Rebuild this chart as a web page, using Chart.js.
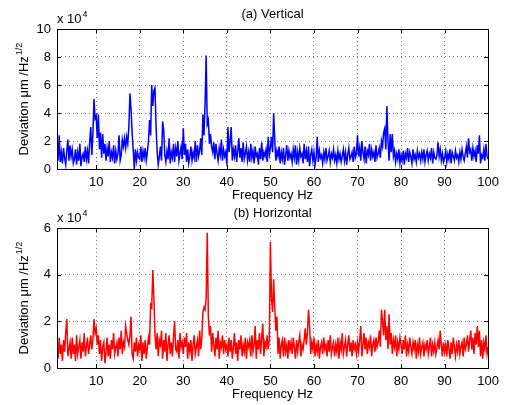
<!DOCTYPE html>
<html>
<head>
<meta charset="utf-8">
<title>Deviation spectra</title>
<script src="https://cdn.jsdelivr.net/npm/chart.js@4.4.0/dist/chart.umd.min.js"></script>
<style>
    html, body { margin: 0; padding: 0; background: #fff; }
    #wrap { position: relative; width: 505px; height: 405px; }
    #wrap canvas { position: absolute; left: 0; top: 0; }
</style>
</head>
<body>
<div id="wrap">
    <canvas id="vertChart" width="505" height="405"></canvas>
    <canvas id="horzChart" width="505" height="405"></canvas>
</div>
<script>
// Frequency grid (Hz): 1 to 100 in 0.25 Hz steps
const freqStart = 1;
const freqStep = 0.25;

// Tick labels
const xTicks = [10, 20, 30, 40, 50, 60, 70, 80, 90, 100];
const yTicksVert = [0, 2, 4, 6, 8, 10];
const yTicksHorz = [0, 2, 4, 6];

// (a) Vertical deviation, in units of 1e4 um/Hz^1/2 (one row per 5 Hz)
const verticalDev = [
    1.8, 0.6, 2.4, 0.5, 1.2, 0.4, 1.5, 0.8, 0.3, 1.3, 2.1, 0.6, 1.7, 0.9, 1.4, 0.4,
    0.7, 1.4, 0.3, 1.2, 0.6, 1.8, 0.2, 0.9, 1.1, 0.5, 1.6, 0.7, 1.3, 0.4, 1.9, 3.0, 1.0, 2.6, 5.0, 3.6,
    3.8, 2.2, 3.9, 1.4, 2.6, 0.8, 2.5, 1.1, 1.8, 0.6, 1.5, 0.9, 2.0, 0.5, 1.2, 0.8, 1.7, 0.4, 1.3, 0.7,
    1.1, 2.4, 0.6, 1.0, 2.1, 1.6, 2.2, 1.5, 2.3, 1.8, 3.0, 5.4, 4.3, 2.6, 1.4, 0.0, 1.4, 0.6, 1.2, 0.8,
    0.7, 1.6, 0.5, 1.3, 0.8, 1.5, 0.6, 1.2, 2.0, 3.5, 2.4, 6.0, 4.5, 5.6, 5.8, 3.0, 1.2, 0.3, 0.9, 1.6,
    0.6, 3.4, 2.8, 1.0, 0.5, 1.3, 0.7, 2.2, 0.4, 1.2, 0.8, 1.8, 0.5, 1.5, 0.9, 2.0, 0.6, 1.1, 1.6, 0.7,
    2.9, 1.0, 1.8, 0.5, 1.4, 0.4, 0.9, 1.6, 0.6, 1.2, 0.8, 2.0, 0.5, 1.7, 0.9, 1.3, 2.2, 1.0, 3.9, 2.4,
    4.6, 8.1, 3.2, 3.5, 1.8, 2.5, 1.6, 1.2, 1.9, 0.7, 1.8, 1.1, 0.6, 1.5, 1.0, 2.1, 0.6, 1.4, 0.9, 1.2,
    0.3, 3.0, 1.2, 2.0, 3.0, 0.6, 1.4, 0.9, 1.7, 0.5, 1.3, 2.2, 0.8, 1.5, 0.5, 1.9, 0.7, 1.1, 1.6, 0.6,
    1.2, 0.5, 1.8, 0.8, 1.3, 0.4, 1.6, 0.9, 1.1, 0.3, 1.5, 0.7, 1.9, 0.6, 1.2, 0.9, 1.4, 0.5, 2.3, 1.0,
    1.5, 2.3, 1.2, 4.0, 2.1, 0.6, 1.3, 0.9, 1.6, 0.4, 1.2, 0.7, 1.5, 0.3, 1.0, 1.7, 0.6, 1.3, 0.8, 1.1,
    0.5, 1.4, 0.8, 1.7, 0.3, 1.2, 0.6, 1.5, 0.9, 1.1, 0.4, 1.8, 0.7, 1.3, 0.5, 1.6, 0.2, 1.0, 1.4, 0.6,
    1.2, 0.3, 0.8, 2.3, 0.5, 1.3, 0.8, 1.0, 0.4, 1.2, 0.7, 1.5, 0.6, 0.9, 1.3, 0.5, 1.1, 0.8, 1.4, 0.6,
    1.0, 0.4, 1.3, 0.7, 1.1, 0.5, 0.9, 1.4, 0.6, 1.2, 0.3, 1.0, 1.5, 0.7, 0.9, 1.2, 0.5, 1.6, 0.8, 1.1,
    2.4, 0.9, 1.5, 0.6, 2.0, 1.2, 0.7, 1.6, 0.4, 1.3, 1.0, 1.8, 0.6, 1.4, 0.9, 1.2, 0.5, 1.7, 0.8, 1.1,
    1.5, 0.8, 2.0, 1.6, 2.6, 2.9, 1.4, 4.5, 2.0, 0.6, 2.5, 1.2, 2.5, 0.9, 1.3, 0.5, 1.1, 0.7, 1.4, 0.4,
    1.0, 0.6, 1.3, 0.3, 1.1, 0.8, 1.5, 0.5, 1.2, 0.9, 0.4, 1.4, 0.7, 1.0, 0.5, 1.3, 0.8, 1.1, 0.6, 1.2,
    0.7, 1.4, 0.5, 1.0, 1.3, 0.6, 1.1, 0.8, 1.5, 0.4, 1.2, 0.8, 0.7, 1.0, 1.9, 0.9, 1.4, 0.6, 1.1, 0.5,
    0.8, 1.3, 0.5, 1.1, 0.7, 1.4, 0.4, 1.2, 0.9, 0.6, 1.3, 0.8, 1.0, 0.5, 1.2, 0.7, 1.4, 0.9, 0.6, 1.1,
    1.6, 0.8, 2.2, 1.2, 1.4, 0.6, 1.5, 0.9, 1.3, 0.5, 1.7, 1.1, 2.4, 0.4, 1.0, 0.8, 1.4, 0.6, 1.8, 0.9,
    0.7
];

// (b) Horizontal deviation, in units of 1e4 um/Hz^1/2 (one row per 5 Hz)
const horizontalDev = [
    0.9, 0.4, 1.3, 0.6, 1.0, 0.3, 1.2, 0.7, 1.5, 2.1, 0.5, 0.8, 1.1, 0.4, 1.3, 0.6,
    1.0, 0.3, 1.4, 0.6, 0.9, 1.2, 0.4, 1.1, 0.7, 1.5, 0.5, 0.9, 1.3, 0.6, 1.0, 1.4, 0.8, 1.2, 2.1, 1.5,
    1.7, 1.0, 1.4, 0.6, 1.2, 0.3, 0.9, 1.1, 0.2, 0.7, 1.3, 0.5, 1.0, 0.4, 1.2, 0.8, 1.5, 0.6, 0.9, 1.1,
    0.5, 1.3, 0.8, 1.6, 0.6, 1.1, 0.9, 1.8, 1.5, 1.2, 1.0, 1.4, 2.2, 0.6, 0.4, 1.1, 0.7, 1.3, 0.5, 1.0,
    0.8, 1.4, 0.3, 1.1, 0.6, 1.2, 0.4, 0.9, 1.3, 1.0, 2.7, 2.6, 4.2, 3.0, 1.4, 0.8, 1.5, 0.5, 1.2, 1.0,
    1.6, 0.4, 1.2, 0.7, 1.5, 0.3, 1.0, 1.4, 0.6, 1.1, 0.5, 1.3, 2.0, 0.8, 0.7, 1.2, 0.4, 1.5, 0.9, 1.1,
    0.6, 1.3, 0.9, 1.5, 0.4, 1.1, 0.7, 1.2, 0.3, 1.0, 1.4, 0.6, 0.9, 1.2, 0.5, 1.6, 0.8, 1.3, 2.4, 2.6,
    2.5, 3.0, 5.8, 2.2, 1.4, 1.8, 0.7, 1.5, 1.0, 0.5, 1.3, 0.8, 1.6, 0.4, 1.1, 0.9, 1.4, 0.6, 1.2, 0.8,
    1.0, 0.5, 1.3, 0.7, 1.2, 0.4, 0.9, 1.5, 0.6, 1.1, 0.3, 1.2, 0.8, 1.4, 0.5, 1.0, 0.7, 1.3, 0.4, 1.1,
    0.9, 1.2, 0.5, 1.4, 0.7, 1.0, 1.8, 0.4, 1.2, 0.8, 1.5, 0.6, 1.3, 1.9, 0.5, 1.1, 0.9, 1.4, 0.8, 1.2,
    5.4, 3.0, 2.4, 3.8, 2.6, 1.6, 2.2, 0.6, 1.3, 0.4, 1.0, 1.2, 0.5, 1.3, 0.7, 1.0, 0.4, 1.2, 0.8, 1.1,
    0.6, 1.3, 0.9, 0.4, 1.2, 0.7, 1.1, 1.4, 0.5, 1.0, 0.8, 1.2, 1.7, 1.0, 1.5, 2.5, 1.8, 0.6, 1.1, 0.8,
    1.3, 0.5, 1.0, 0.7, 1.2, 0.4, 0.9, 1.1, 0.6, 1.3, 0.8, 1.0, 0.5, 1.2, 0.7, 1.4, 0.6, 0.9, 1.1, 0.5,
    1.0, 0.7, 1.3, 0.4, 1.1, 0.8, 1.5, 0.6, 0.9, 1.2, 0.5, 1.0, 1.4, 0.7, 1.1, 0.5, 1.2, 0.8, 1.0, 0.6,
    1.1, 0.7, 1.2, 1.8, 0.5, 1.0, 1.5, 0.8, 1.3, 0.6, 1.1, 0.9, 1.4, 0.5, 1.0, 1.2, 0.7, 1.3, 0.9, 1.1,
    1.6, 0.9, 2.5, 2.0, 1.4, 2.5, 1.2, 1.8, 0.8, 2.3, 1.0, 1.5, 0.6, 1.2, 0.9, 1.4, 0.5, 1.1, 0.8, 1.3,
    1.0, 0.6, 1.2, 0.8, 1.4, 0.5, 1.0, 0.7, 1.3, 0.9, 0.6, 1.1, 0.8, 1.2, 0.4, 1.0, 0.7, 1.3, 0.6, 0.9,
    1.1, 0.5, 1.0, 0.8, 1.2, 0.6, 0.9, 1.3, 0.5, 1.0, 0.7, 1.1, 0.6, 0.9, 1.2, 0.8, 1.6, 1.0, 0.5, 1.1,
    0.7, 1.0, 0.5, 1.2, 0.8, 0.4, 1.1, 0.6, 1.3, 0.9, 0.5, 1.0, 0.7, 1.2, 0.6, 0.9, 1.1, 0.5, 1.3, 0.8,
    1.0, 1.4, 0.7, 1.2, 1.6, 0.8, 1.3, 0.6, 1.5, 1.0, 1.8, 0.9, 1.6, 0.5, 1.2, 0.4, 1.1, 0.8, 1.4, 0.6,
    0.9
];

const FONT = "'Liberation Sans', Arial, Helvetica, sans-serif";

// Draw the MATLAB-style box, inward ticks and the annotation text
const annotate = {
    id: 'annotate',
    afterDraw(chart, args, opts) {
        const { ctx, chartArea: a, scales } = chart;
        ctx.save();

        // box
        ctx.strokeStyle = '#000';
        ctx.lineWidth = 1;
        ctx.strokeRect(Math.round(a.left) + 0.5, Math.round(a.top) + 0.5,
            Math.round(a.width), Math.round(a.height));

        // inward tick marks on all four sides
        ctx.beginPath();
        xTicks.forEach(v => {
            const px = Math.round(scales.x.getPixelForValue(v)) + 0.5;
            ctx.moveTo(px, a.bottom); ctx.lineTo(px, a.bottom - 4);
            ctx.moveTo(px, a.top); ctx.lineTo(px, a.top + 4);
        });
        opts.yTicks.forEach(v => {
            const py = Math.round(scales.y.getPixelForValue(v)) + 0.5;
            ctx.moveTo(a.left, py); ctx.lineTo(a.left + 4, py);
            ctx.moveTo(a.right, py); ctx.lineTo(a.right - 4, py);
        });
        ctx.stroke();

        ctx.fillStyle = '#000';
        const midX = (a.left + a.right) / 2;

        // subplot title
        ctx.font = '13px ' + FONT;
        ctx.textAlign = 'center';
        ctx.textBaseline = 'alphabetic';
        ctx.fillText(opts.title, midX, a.top - 11);

        // exponent label
        ctx.textAlign = 'left';
        ctx.fillText('x 10', a.left, a.top - 6);
        const w = ctx.measureText('x 10').width;
        ctx.font = '9px ' + FONT;
        ctx.fillText('4', a.left + w + 1, a.top - 12);

        // x axis title
        ctx.font = '13px ' + FONT;
        ctx.textAlign = 'center';
        ctx.fillText('Frequency Hz', midX, a.bottom + 30);

        // y axis title with superscript
        const main = 'Deviation \u03bcm /Hz';
        const sup = '1/2';
        ctx.font = '13px ' + FONT;
        const w1 = ctx.measureText(main).width;
        ctx.font = '9px ' + FONT;
        const w2 = ctx.measureText(sup).width;
        ctx.translate(28, (a.top + a.bottom) / 2);
        ctx.rotate(-Math.PI / 2);
        ctx.textAlign = 'left';
        const start = -(w1 + w2 + 1) / 2;
        ctx.font = '13px ' + FONT;
        ctx.fillText(main, start, 0);
        ctx.font = '9px ' + FONT;
        ctx.fillText(sup, start + w1 + 1, -6);

        ctx.restore();
    }
};

// Build {x, y} points on the frequency grid
function toPoints(values) {
    return values.map((v, i) => ({ x: freqStart + i * freqStep, y: v }));
}

function makeChart(canvasId, values, color, yTicks, title, padTop, padBottom, xHeight) {
    const ctx = document.getElementById(canvasId).getContext('2d');
    return new Chart(ctx, {
        type: 'line',
        data: {
            datasets: [{
                data: toPoints(values),
                borderColor: color,
                borderWidth: 1.5,
                pointRadius: 0,
                fill: false,
                tension: 0
            }]
        },
        options: {
            responsive: false,
            animation: false,
            events: [],
            layout: { padding: { top: padTop, bottom: padBottom, left: 0, right: 14 } },
            plugins: {
                legend: { display: false },
                tooltip: { enabled: false },
                annotate: { title: title, yTicks: yTicks }
            },
            scales: {
                x: {
                    type: 'linear',
                    min: 1,
                    max: 100,
                    afterBuildTicks: s => { s.ticks = xTicks.map(v => ({ value: v })); },
                    afterFit: s => { s.height = xHeight; },
                    grid: { color: '#777', lineWidth: 1, drawTicks: false },
                    border: { display: false, dash: [1, 3] },
                    ticks: { color: '#000', padding: 6, maxRotation: 0, font: { family: FONT, size: 13 } }
                },
                y: {
                    min: 0,
                    max: yTicks[yTicks.length - 1],
                    afterBuildTicks: s => { s.ticks = yTicks.map(v => ({ value: v })); },
                    afterFit: s => { s.width = 57; },
                    grid: { color: '#777', lineWidth: 1, drawTicks: false },
                    border: { display: false, dash: [1, 3] },
                    ticks: { color: '#000', padding: 6, font: { family: FONT, size: 13 } }
                }
            }
        },
        plugins: [annotate]
    });
}

makeChart('vertChart', verticalDev, '#0000ff', yTicksVert, '(a) Vertical', 29, 205, 31);
makeChart('horzChart', horizontalDev, '#ff0000', yTicksHorz, '(b) Horizontal', 228, 0, 37);
</script>
</body>
</html>
